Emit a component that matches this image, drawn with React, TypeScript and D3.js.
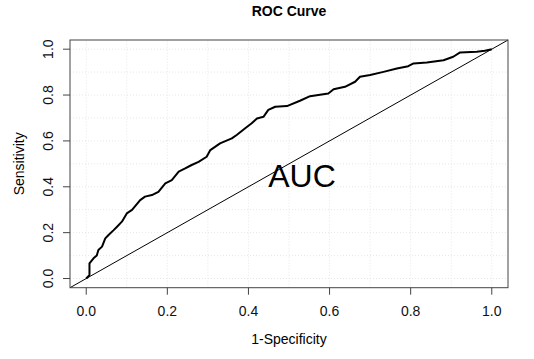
import React, { useEffect, useRef } from "react";
import * as d3 from "d3";

// ROC 곡선 데이터 (1-특이도, 민감도)
const fpr = [
    0, 0.008, 0.008, 0.018, 0.026, 0.03, 0.039, 0.047, 0.055, 0.067, 0.076, 0.088, 0.1, 0.113,
    0.133, 0.145, 0.162, 0.178, 0.195, 0.211, 0.228, 0.244, 0.26, 0.277, 0.297, 0.306, 0.33,
    0.359, 0.371, 0.392, 0.408, 0.421, 0.437, 0.449, 0.466, 0.495, 0.527, 0.552, 0.597, 0.61,
    0.638, 0.663, 0.675, 0.7, 0.733, 0.766, 0.794, 0.807, 0.84, 0.881, 0.905, 0.922, 0.963,
    0.983, 1.0
];
const tpr = [
    0, 0.015, 0.066, 0.088, 0.1, 0.124, 0.139, 0.175, 0.19, 0.21, 0.226, 0.248, 0.284, 0.299,
    0.342, 0.357, 0.364, 0.378, 0.415, 0.429, 0.466, 0.48, 0.495, 0.509, 0.531, 0.56, 0.589,
    0.611, 0.626, 0.655, 0.677, 0.698, 0.705, 0.735, 0.749, 0.752, 0.775, 0.795, 0.807, 0.825,
    0.836, 0.858, 0.88, 0.887, 0.901, 0.916, 0.926, 0.938, 0.942, 0.952, 0.967, 0.986, 0.989,
    0.993, 1.0
];

const ticks = [0, 0.2, 0.4, 0.6, 0.8, 1.0];
const gridLines = [0, 0.1, 0.2, 0.3, 0.4, 0.5, 0.6, 0.7, 0.8, 0.9, 1.0];

export default function App() {
    const svgRef = useRef<SVGSVGElement>(null);

    useEffect(() => {
        const width = 534;
        const height = 359;
        const font = "Liberation Sans, Arial, sans-serif";

        const svg = d3.select(svgRef.current);
        svg.selectAll("*").remove();
        svg.attr("width", width).attr("height", height);

        svg.append("rect").attr("width", width).attr("height", height).attr("fill", "white");

        // R 스타일: 축 범위 4% 확장
        const x = d3.scaleLinear().domain([-0.04, 1.04]).range([70, 508]);
        const y = d3.scaleLinear().domain([-0.04, 1.04]).range([287.7, 40]);

        // 격자 (아주 옅은 점선)
        const grid = svg.append("g")
            .attr("stroke", "#e6e6e6")
            .attr("stroke-width", 1)
            .attr("stroke-dasharray", "1,2");
        grid.selectAll(".gx")
            .data(gridLines)
            .enter()
            .append("line")
            .attr("x1", d => x(d))
            .attr("x2", d => x(d))
            .attr("y1", y(-0.04))
            .attr("y2", y(1.04));
        grid.selectAll(".gy")
            .data(gridLines)
            .enter()
            .append("line")
            .attr("x1", x(-0.04))
            .attr("x2", x(1.04))
            .attr("y1", d => y(d))
            .attr("y2", d => y(d));

        // 대각선
        svg.append("line")
            .attr("x1", x(-0.04))
            .attr("y1", y(-0.04))
            .attr("x2", x(1.04))
            .attr("y2", y(1.04))
            .attr("stroke", "black")
            .attr("stroke-width", 1);

        // ROC 곡선
        const points = fpr.map((f, i) => [f, tpr[i]] as [number, number]);
        const line = d3.line<[number, number]>()
            .x(d => x(d[0]))
            .y(d => y(d[1]));
        svg.append("path")
            .datum(points)
            .attr("d", line)
            .attr("fill", "none")
            .attr("stroke", "black")
            .attr("stroke-width", 2)
            .attr("stroke-linejoin", "round");

        // 박스
        svg.append("rect")
            .attr("x", x(-0.04))
            .attr("y", y(1.04))
            .attr("width", x(1.04) - x(-0.04))
            .attr("height", y(-0.04) - y(1.04))
            .attr("fill", "none")
            .attr("stroke", "#444")
            .attr("stroke-width", 1);

        // X축
        const xAxis = svg.append("g").attr("stroke", "#444");
        xAxis.selectAll("line")
            .data(ticks)
            .enter()
            .append("line")
            .attr("x1", d => x(d))
            .attr("x2", d => x(d))
            .attr("y1", y(-0.04))
            .attr("y2", y(-0.04) + 7);
        svg.selectAll(".xlab")
            .data(ticks)
            .enter()
            .append("text")
            .attr("x", d => x(d))
            .attr("y", 316)
            .attr("text-anchor", "middle")
            .attr("font-family", font)
            .attr("font-size", 14)
            .attr("fill", "#111")
            .text(d => d.toFixed(1));

        // Y축
        const yAxis = svg.append("g").attr("stroke", "#444");
        yAxis.selectAll("line")
            .data(ticks)
            .enter()
            .append("line")
            .attr("x1", x(-0.04) - 7)
            .attr("x2", x(-0.04))
            .attr("y1", d => y(d))
            .attr("y2", d => y(d));
        svg.selectAll(".ylab")
            .data(ticks)
            .enter()
            .append("text")
            .attr("transform", d => `translate(53, ${y(d)}) rotate(-90)`)
            .attr("text-anchor", "middle")
            .attr("font-family", font)
            .attr("font-size", 14)
            .attr("fill", "#111")
            .text(d => d.toFixed(1));

        // 제목 및 축 라벨
        svg.append("text")
            .attr("x", (x(-0.04) + x(1.04)) / 2)
            .attr("y", 16)
            .attr("text-anchor", "middle")
            .attr("font-family", font)
            .attr("font-size", 14)
            .attr("font-weight", "bold")
            .text("ROC Curve");

        svg.append("text")
            .attr("x", (x(-0.04) + x(1.04)) / 2)
            .attr("y", 343.5)
            .attr("text-anchor", "middle")
            .attr("font-family", font)
            .attr("font-size", 14)
            .text("1-Specificity");

        svg.append("text")
            .attr("transform", `translate(24, ${(y(-0.04) + y(1.04)) / 2}) rotate(-90)`)
            .attr("text-anchor", "middle")
            .attr("font-family", font)
            .attr("font-size", 14)
            .text("Sensitivity");

        // AUC 텍스트
        svg.append("text")
            .attr("x", x(0.532))
            .attr("y", y(0.45))
            .attr("dy", "0.35em")
            .attr("text-anchor", "middle")
            .attr("font-family", font)
            .attr("font-size", 32)
            .text("AUC");
    }, []);

    return (
        <div style={{ position: "absolute", left: 0, top: 0 }}>
            <svg ref={svgRef}></svg>
        </div>
    );
}
